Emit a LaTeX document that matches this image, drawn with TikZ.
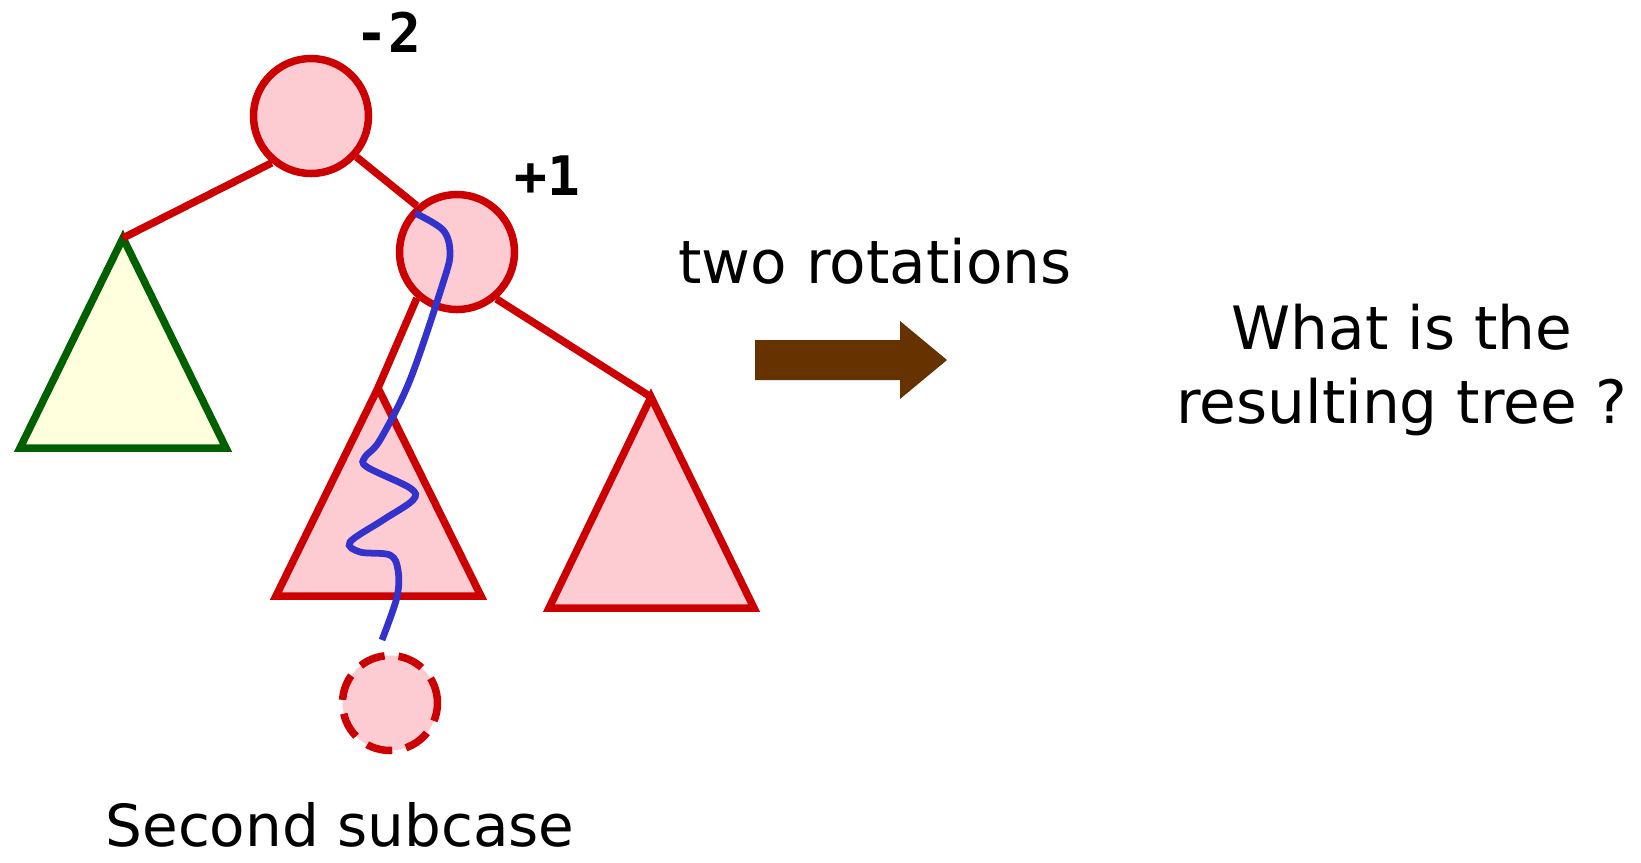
\documentclass[tikz,border=0pt]{standalone}
\usepackage{fontspec}
\setmainfont{DejaVu Sans}
\newfontfamily\balfont{DejaVu Sans Mono}
\usetikzlibrary{calc}
\definecolor{nodered}{RGB}{204,0,0}
\definecolor{nodepink}{RGB}{252,204,210}
\definecolor{treegreen}{RGB}{0,96,0}
\definecolor{treeyellow}{RGB}{255,255,221}
\definecolor{pathblue}{RGB}{51,51,204}
\definecolor{arrowbrown}{RGB}{102,51,0}
\tikzset{
  treenode/.style={circle, draw=nodered, fill=nodepink, line width=1.5mm, minimum size=23mm, inner sep=0pt},
  ghostnode/.style={treenode, minimum size=19mm, dash pattern=on 5.2mm off 2.8mm},
  edge/.style={draw=nodered, line width=1.5mm},
  redtree/.style={draw=nodered, fill=nodepink, line width=1.5mm},
  greentree/.style={draw=treegreen, fill=treeyellow, line width=1.5mm},
  searchpath/.style={draw=pathblue, line width=1.35mm},
  bal/.style={font=\balfont\bfseries\fontsize{31}{31}\selectfont, inner sep=0pt},
  caption/.style={font=\fontsize{34}{42.5}\selectfont, inner sep=0pt, align=center},
}

\begin{document}
\begin{tikzpicture}[x=0.2mm, y=-0.2mm]
  \useasboundingbox (0,0) rectangle (1641,862);
  % subtrees
  \coordinate (lapex) at (123,238);
  \coordinate (mapex) at (378,388);
  \coordinate (rapex) at (651,397);
  \filldraw[greentree] (lapex) -- (226,448) -- (20,448) -- cycle;
  \filldraw[redtree] (mapex) -- (481,596) -- (276,596) -- cycle;
  \filldraw[redtree] (rapex) -- (754,608) -- (549,608) -- cycle;
  % nodes
  \node[treenode] (root) at (311,116) {};
  \node[treenode] (kid) at (457,252) {};
  \node[ghostnode] (new) at (390,703) {};
  \node[bal] (broot) at (388,32) {-2};
  \node[bal] (bkid) at (547,176) {+1};
  % edges
  \draw[edge] (root.230) -- (lapex);
  \draw[edge] (root.318) -- (kid.131);
  \draw[edge] (kid.229) -- (mapex);
  \draw[edge] (kid.310) -- (rapex);
  % insertion path
  \draw[searchpath] plot[smooth, tension=0.55] coordinates {(415,213) (443,230) (450,253) (443,283) (410,380) (380,440) (365,457) (367,467) (410,488) (413,500) (383,520) (350,542) (360,552) (390,555) (398,570) (397,597) (382,640)};
  % arrow
  \fill[arrowbrown] (755,340) -- (900,340) -- (900,321) -- (947,360) -- (900,399) -- (900,380) -- (755,380) -- cycle;
  \node[caption, anchor=base] (rot) at (875,283) {two rotations};
  \node[caption] (ask) at (1402,370) {What is the\\resulting tree ?};
  \node[caption, anchor=base, font=\fontsize{33}{40}\selectfont] (sub) at (340,846) {Second subcase};
\end{tikzpicture}
\end{document}
